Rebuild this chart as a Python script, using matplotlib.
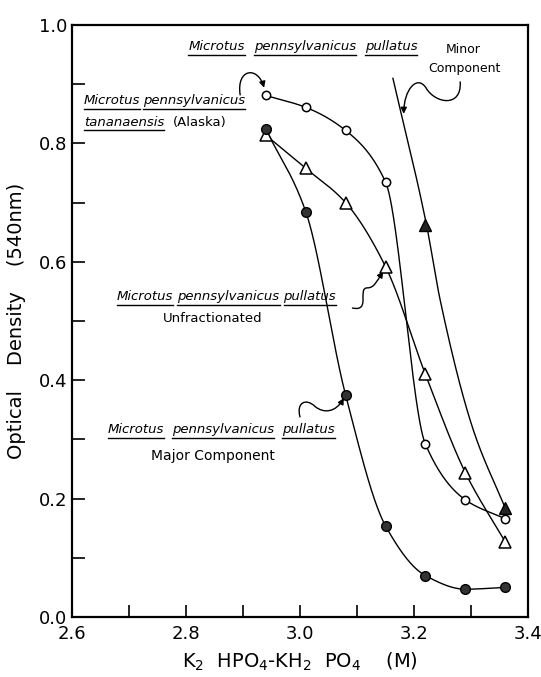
import numpy as np
import matplotlib
matplotlib.use('Agg')
import matplotlib.pyplot as plt
from matplotlib.path import Path
from matplotlib.patches import FancyArrowPatch

plt.rcParams['font.family'] = ['DejaVu Sans']

# Data
conc = [2.94, 3.01, 3.08, 3.15, 3.22, 3.29, 3.36]
tananaensis = [0.881, 0.861, 0.822, 0.735, 0.292, 0.198, 0.166]
unfractionated = [0.814, 0.758, 0.700, 0.592, 0.410, 0.244, 0.127]
major = [0.824, 0.685, 0.375, 0.154, 0.070, 0.047, 0.050]
minor_x = [3.22, 3.36]
minor_y = [0.662, 0.184]
# hand-drawn guide line for the minor component
minor_line_x = [3.163, 3.222, 3.246, 3.304, 3.36]
minor_line_y = [0.910, 0.662, 0.535, 0.316, 0.184]


def smooth(xs, ys, n=60):
    # monotone cubic (PCHIP) curve through the points
    x = np.asarray(xs, float)
    y = np.asarray(ys, float)
    h = np.diff(x)
    d = np.diff(y) / h
    m = np.zeros_like(y)
    m[0], m[-1] = d[0], d[-1]
    for k in range(1, len(x) - 1):
        if d[k - 1] * d[k] > 0:
            w1 = 2 * h[k] + h[k - 1]
            w2 = h[k] + 2 * h[k - 1]
            m[k] = (w1 + w2) / (w1 / d[k - 1] + w2 / d[k])
    cx, cy = [], []
    for k in range(len(x) - 1):
        t = np.linspace(0, 1, n)
        h00 = 2 * t ** 3 - 3 * t ** 2 + 1
        h10 = t ** 3 - 2 * t ** 2 + t
        h01 = -2 * t ** 3 + 3 * t ** 2
        h11 = t ** 3 - t ** 2
        cx.append(x[k] + t * h[k])
        cy.append(h00 * y[k] + h10 * h[k] * m[k] + h01 * y[k + 1] + h11 * h[k] * m[k + 1])
    return np.concatenate(cx), np.concatenate(cy)


fig = plt.figure(figsize=(5.41, 6.77), dpi=100)
ax = fig.add_axes([0.1331, 0.0886, 0.8429, 0.8744])
ax.set_xlim(2.6, 3.4)
ax.set_ylim(0.0, 1.0)

for ys in [tananaensis, unfractionated, major]:
    sx, sy = smooth(conc, ys)
    ax.plot(sx, sy, color='black', lw=1.0, zorder=2)
sx, sy = smooth(minor_line_x, minor_line_y)
ax.plot(sx, sy, color='black', lw=1.0, zorder=2)

ax.plot(conc, tananaensis, 'o', ms=6, mfc='white', mec='black', mew=1.1, zorder=3)
ax.plot(conc, unfractionated, '^', ms=9, mfc='white', mec='black', mew=1.1, zorder=3)
ax.plot(conc, major, 'o', ms=7, mfc='#333333', mec='black', mew=1.0, zorder=4)
ax.plot(minor_x, minor_y, '^', ms=9, mfc='#222222', mec='black', mew=1.0, zorder=4)

# axes styling
for s in ax.spines.values():
    s.set_linewidth(1.6)
ax.set_xticks(np.arange(2.6, 3.41, 0.2))
ax.set_xticks(np.arange(2.7, 3.4, 0.2), minor=True)
ax.set_yticks(np.arange(0.0, 1.01, 0.2))
ax.set_yticks(np.arange(0.1, 1.0, 0.2), minor=True)
ax.xaxis.set_major_formatter(matplotlib.ticker.FormatStrFormatter('%.1f'))
ax.yaxis.set_major_formatter(matplotlib.ticker.FormatStrFormatter('%.1f'))
ax.tick_params(which='both', direction='in', length=9, width=1.2,
               top=False, right=False, labelsize=13)
ax.tick_params(axis='x', pad=6)
ax.set_xlabel(r'K$_2$  HPO$_4$-KH$_2$  PO$_4$    (M)', fontsize=14, labelpad=5)
ax.set_ylabel('Optical    Density    (540nm)', fontsize=14, labelpad=9)

fig.canvas.draw()
renderer = fig.canvas.get_renderer()
inv = ax.transData.inverted()


def words_line(x, y, words, size=9.5, gap=7):
    # words: list of (text, underlined)
    for word, under in words:
        t = ax.text(x, y, word, fontsize=size, style='italic' if under else 'normal',
                    ha='left', va='center')
        bb = t.get_window_extent(renderer)
        x1, _ = inv.transform((bb.x1, bb.y0))
        if under:
            xa, ya = inv.transform((bb.x0, bb.y0 - 1.5))
            ax.plot([xa, x1], [ya, ya], color='black', lw=1.0)
        x, _ = inv.transform((bb.x1 + gap, bb.y0))


mpp = [('Microtus', True), ('pennsylvanicus', True), ('pullatus', True)]
words_line(2.804, 0.963, mpp, gap=9)
words_line(2.621, 0.872, [('Microtus', True), ('pennsylvanicus', True)], gap=3)
words_line(2.621, 0.836, [('tananaensis', True), ('(Alaska)', False)], gap=9)
words_line(2.679, 0.541, mpp, gap=4)
words_line(2.663, 0.316, mpp, gap=8)

ax.text(3.286, 0.958, 'Minor', fontsize=9, ha='center', va='center')
ax.text(3.289, 0.927, 'Component', fontsize=9, ha='center', va='center')
ax.text(2.846, 0.505, 'Unfractionated', fontsize=9.5, ha='center', va='center')
ax.text(2.847, 0.272, 'Major Component', fontsize=10, ha='center', va='center')

# curly pointer arrows
curls = [
    [(2.895, 0.882), (2.888, 0.927), (2.926, 0.931), (2.937, 0.894)],
    [(3.281, 0.904), (3.284, 0.860), (3.237, 0.867), (3.221, 0.894),
     (3.205, 0.917), (3.182, 0.890), (3.182, 0.850)],
    [(3.092, 0.522), (3.125, 0.515), (3.100, 0.556), (3.118, 0.556),
     (3.130, 0.556), (3.134, 0.566), (3.146, 0.584)],
    [(3.000, 0.338), (2.993, 0.363), (3.011, 0.370), (3.026, 0.356),
     (3.042, 0.343), (3.063, 0.346), (3.077, 0.370)],
]
for verts in curls:
    codes = [Path.MOVETO] + [Path.CURVE4] * (len(verts) - 1)
    arr = FancyArrowPatch(path=Path(verts, codes), arrowstyle='-|>',
                          mutation_scale=9, lw=1.0, color='black',
                          transform=ax.transData)
    ax.add_patch(arr)

fig.savefig('out.png', dpi=100)
